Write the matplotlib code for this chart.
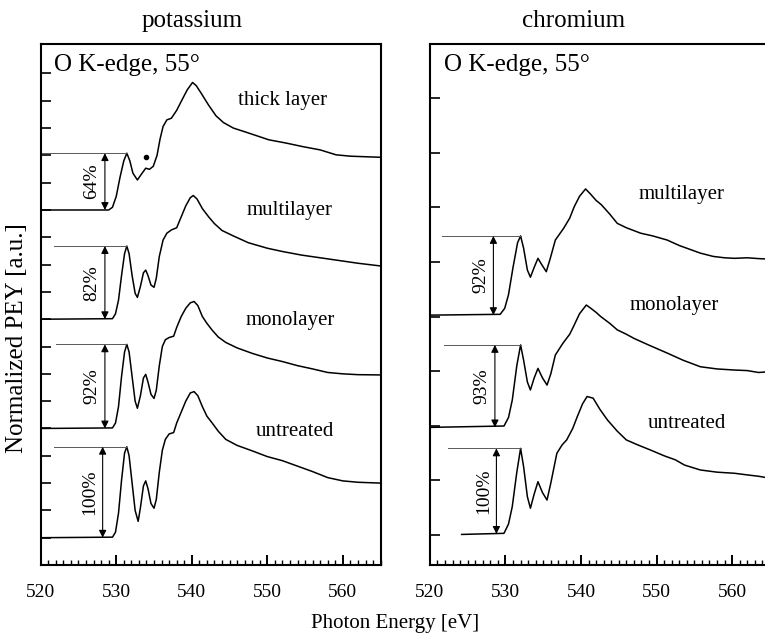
import matplotlib
matplotlib.use('Agg')
import matplotlib.pyplot as plt
import numpy as np

plt.rcParams['font.family'] = 'Liberation Serif'

# ---- potassium (left panel), energies in eV, intensities in tick units ----
k_untr_x = [520, 529.5, 529.9, 530.3, 530.7, 531.1, 531.4, 531.7, 532.1, 532.5, 532.9, 533.2, 533.6,
            533.9, 534.2, 534.6, 535.0, 535.3, 535.7, 536.1, 536.5, 537.0, 537.6, 538.0, 538.6, 539.2,
            539.8, 540.3, 540.8, 541.4, 542.0, 542.7, 543.5, 544.5, 546, 548, 550, 552, 554, 556,
            558, 560, 562, 565]
k_untr_y = [1.0, 1.02, 1.2, 1.9, 3.1, 4.1, 4.33, 4.0, 3.0, 2.0, 1.6, 2.1, 2.9,
            3.08, 2.8, 2.25, 2.08, 2.4, 3.4, 4.2, 4.6, 4.8, 4.85, 5.2, 5.6, 6.0,
            6.3, 6.35, 6.2, 5.8, 5.45, 5.2, 4.9, 4.6, 4.38, 4.18, 3.97, 3.82, 3.62, 3.42,
            3.2, 3.08, 3.03, 3.0]

k_mono_x = [520, 529.5, 529.9, 530.3, 530.7, 531.1, 531.4, 531.7, 532.1, 532.5, 532.8, 533.2, 533.6,
            533.9, 534.2, 534.6, 535.0, 535.3, 535.7, 536.1, 536.5, 537.0, 537.6, 538.0, 538.6, 539.2,
            539.8, 540.3, 540.8, 541.4, 542.0, 542.7, 543.5, 544.5, 546, 548, 550, 552, 554, 556,
            558, 560, 562, 565]
k_mono_y = [5.0, 5.02, 5.2, 5.8, 6.9, 7.8, 8.08, 7.8, 6.9, 6.0, 5.74, 6.2, 6.85,
            6.98, 6.7, 6.25, 6.1, 6.4, 7.3, 8.0, 8.25, 8.33, 8.38, 8.7, 9.1, 9.4,
            9.6, 9.65, 9.5, 9.1, 8.85, 8.6, 8.35, 8.15, 7.95, 7.75, 7.58, 7.45, 7.3, 7.18,
            7.05, 7.0, 6.97, 6.96]

k_multi_x = [520, 529.5, 529.9, 530.3, 530.7, 531.1, 531.4, 531.7, 532.1, 532.5, 532.8, 533.2, 533.6,
             533.9, 534.2, 534.6, 535.0, 535.3, 535.7, 536.2, 536.7, 537.3, 538.0, 538.6, 539.2,
             539.8, 540.2, 540.7, 541.4, 542.2, 543.0, 544.0, 545.5, 547.5, 550, 552, 554.5, 557,
             559, 562, 565]
k_multi_y = [9.0, 9.02, 9.2, 9.7, 10.6, 11.4, 11.68, 11.4, 10.6, 9.95, 9.8, 10.2, 10.7,
             10.8, 10.6, 10.25, 10.17, 10.5, 11.3, 11.9, 12.15, 12.27, 12.35, 12.75, 13.15,
             13.45, 13.53, 13.4, 13.05, 12.76, 12.5, 12.25, 12.05, 11.8, 11.6, 11.48, 11.35, 11.25,
             11.17, 11.05, 10.95]

k_thick_x = [520, 529.0, 529.5, 530.0, 530.5, 531.0, 531.4, 531.8, 532.2, 532.8, 533.3, 533.9, 534.4,
             534.9, 535.4, 535.8, 536.2, 536.7, 537.3, 538.0, 538.7, 539.4, 540.1, 540.6, 541.3,
             542.2, 543.2, 544.2, 545.5, 547.5, 550.2, 552.5, 554.7, 557, 559.1, 561, 563, 565]
k_thick_y = [13.0, 13.0, 13.1, 13.5, 14.2, 14.8, 15.08, 14.8, 14.35, 14.1, 14.3, 14.53, 14.49,
             14.6, 15.0, 15.6, 16.06, 16.3, 16.36, 16.65, 17.03, 17.4, 17.67, 17.55, 17.25,
             16.85, 16.45, 16.2, 16.0, 15.82, 15.57, 15.45, 15.32, 15.2, 15.02, 14.97, 14.95, 14.93]

# ---- chromium (right panel) ----
cr_untr_x = [524.2, 529.8, 530.4, 530.9, 531.5, 532.0, 532.4, 532.9, 533.3, 533.8, 534.3, 534.9, 535.5,
             536.0, 536.8, 537.5, 538.1, 538.9, 539.5, 540.2, 540.8, 541.6, 542.5, 543.5, 544.8,
             546.0, 547.5, 549.2, 551, 552.5, 553.7, 555.8, 558, 560.3, 562, 563.5, 565]
cr_untr_y = [1.12, 1.16, 1.5, 2.14, 3.4, 4.27, 3.6, 2.5, 2.08, 2.6, 3.05, 2.65, 2.38,
             3.0, 4.09, 4.4, 4.58, 5.0, 5.43, 5.9, 6.17, 6.11, 5.7, 5.31, 4.9,
             4.58, 4.4, 4.21, 4.0, 3.85, 3.66, 3.48, 3.4, 3.36, 3.3, 3.25, 3.18]

cr_mono_x = [520, 529.8, 530.4, 530.9, 531.5, 532.0, 532.4, 532.9, 533.3, 533.8, 534.3, 534.9, 535.5,
             536.0, 536.6, 537.6, 538.5, 539.0, 539.8, 540.7, 541.3, 542.0, 542.6, 543.8, 544.8,
             546, 547, 549, 551.5, 553.5, 555.8, 558, 560.3, 562, 563.5, 565]
cr_mono_y = [5.04, 5.09, 5.4, 6.04, 7.3, 8.06, 7.5, 6.7, 6.41, 6.85, 7.2, 6.85, 6.59,
             7.0, 7.69, 8.12, 8.45, 8.73, 9.2, 9.52, 9.4, 9.25, 9.1, 8.85, 8.61,
             8.45, 8.3, 8.05, 7.75, 7.5, 7.26, 7.18, 7.14, 7.12, 7.05, 7.08]

cr_multi_x = [520, 529.3, 529.9, 530.4, 531.0, 531.6, 532.0, 532.4, 532.9, 533.3, 533.8, 534.3, 534.8,
              535.4, 535.9, 536.6, 537.7, 538.5, 539.1, 539.8, 540.6, 541.2, 542.0, 542.7, 543.8,
              544.8, 546.0, 547.9, 549.5, 551.4, 553, 554.5, 555.8, 557.5, 559, 560.3, 562, 563.5, 565]
cr_multi_y = [9.15, 9.18, 9.4, 9.9, 10.9, 11.8, 12.05, 11.6, 10.8, 10.54, 10.9, 11.23, 11.0,
              10.74, 11.2, 11.9, 12.33, 12.7, 13.12, 13.5, 13.77, 13.6, 13.35, 13.19, 12.85,
              12.51, 12.35, 12.15, 12.05, 11.9, 11.7, 11.55, 11.42, 11.3, 11.25, 11.23, 11.25, 11.22, 11.2]

k_labels = ['thick layer', 'multilayer', 'monolayer', 'untreated']
k_label_x = [552, 553, 553, 553.7]
k_label_y = [17.0, 12.98, 8.97, 4.88]
k_pct = ['64%', '82%', '92%', '100%']
k_base = [13.0, 9.0, 5.0, 1.0]
k_peak = [15.08, 11.68, 8.08, 4.33]
k_peak_x = [531.4, 531.4, 531.4, 531.4]
k_line_start = [520, 521.8, 522, 521.8]
k_arrow_x = [528.5, 528.5, 528.5, 528.2]

cr_labels = ['multilayer', 'monolayer', 'untreated']
cr_label_x = [553.3, 552.4, 554]
cr_label_y = [13.55, 9.52, 5.2]
cr_pct = ['92%', '93%', '100%']
cr_base = [9.15, 5.04, 1.14]
cr_peak = [12.05, 8.06, 4.27]
cr_peak_x = [532.0, 532.0, 532.0]
cr_line_start = [521.6, 521.8, 522.4]
cr_arrow_x = [528.4, 528.6, 528.8]

fig = plt.figure(figsize=(7.65, 6.37), dpi=100)
ax1 = fig.add_axes([0.0532, 0.113, 0.4444, 0.818])
ax2 = fig.add_axes([0.562, 0.113, 0.4444, 0.818])


def style(ax, yticks):
    ax.set_xlim(520, 565)
    ax.set_ylim(0, 19.08)
    ax.set_xticks([520, 530, 540, 550, 560])
    ax.set_xticks(np.arange(520, 566, 1), minor=True)
    ax.set_yticks(yticks)
    ax.set_yticklabels([])
    ax.tick_params(axis='x', which='major', direction='in', length=7, width=1.4,
                   labelsize=14, pad=14, top=False)
    ax.tick_params(axis='x', which='minor', direction='in', length=3.5, width=1.0, top=False)
    ax.tick_params(axis='y', which='major', direction='in', length=7, width=1.2, right=False)
    for s in ax.spines.values():
        s.set_linewidth(1.5)


def draw(ax, curves, labels, lx, ly, pct, base, peak, px, lstart, ax_x):
    for (x, y) in curves:
        ax.plot(x, y, color='black', lw=1.1)
    for i in range(len(labels)):
        ax.text(lx[i], ly[i], labels[i], fontsize=15, ha='center', va='center')
        ax.plot([lstart[i], px[i]], [peak[i], peak[i]], color='0.35', lw=0.7)
        ax.annotate('', xy=(ax_x[i], peak[i]), xytext=(ax_x[i], base[i]),
                    arrowprops=dict(arrowstyle='<|-|>', color='black', lw=0.8,
                                    mutation_scale=11, shrinkA=0, shrinkB=0))
        ax.text(ax_x[i] - 1.7, (base[i] + peak[i]) / 2, pct[i], fontsize=14,
                rotation=90, ha='center', va='center')
    ax.text(521.8, 18.3, 'O K-edge, 55°', fontsize=18, ha='left', va='center')


style(ax1, np.arange(1, 19, 1))
draw(ax1, [(k_untr_x, k_untr_y), (k_mono_x, k_mono_y), (k_multi_x, k_multi_y), (k_thick_x, k_thick_y)],
     k_labels, k_label_x, k_label_y, k_pct, k_base, k_peak, k_peak_x, k_line_start, k_arrow_x)
ax1.plot([533.9], [14.93], 'o', color='black', ms=3)

style(ax2, np.arange(1.1, 18, 2))
draw(ax2, [(cr_untr_x, cr_untr_y), (cr_mono_x, cr_mono_y), (cr_multi_x, cr_multi_y)],
     cr_labels, cr_label_x, cr_label_y, cr_pct, cr_base, cr_peak, cr_peak_x, cr_line_start, cr_arrow_x)

fig.text(192 / 765, 0.957, 'potassium', fontsize=18, ha='center', va='baseline')
fig.text(574 / 765, 0.957, 'chromium', fontsize=18, ha='center', va='baseline')
fig.text(395 / 765, 0.014, 'Photon Energy [eV]', fontsize=15, ha='center', va='baseline')
fig.text(0.022, 0.469, 'Normalized PEY [a.u.]', fontsize=18, rotation=90, ha='center', va='center')

fig.savefig('out.png', dpi=100)
